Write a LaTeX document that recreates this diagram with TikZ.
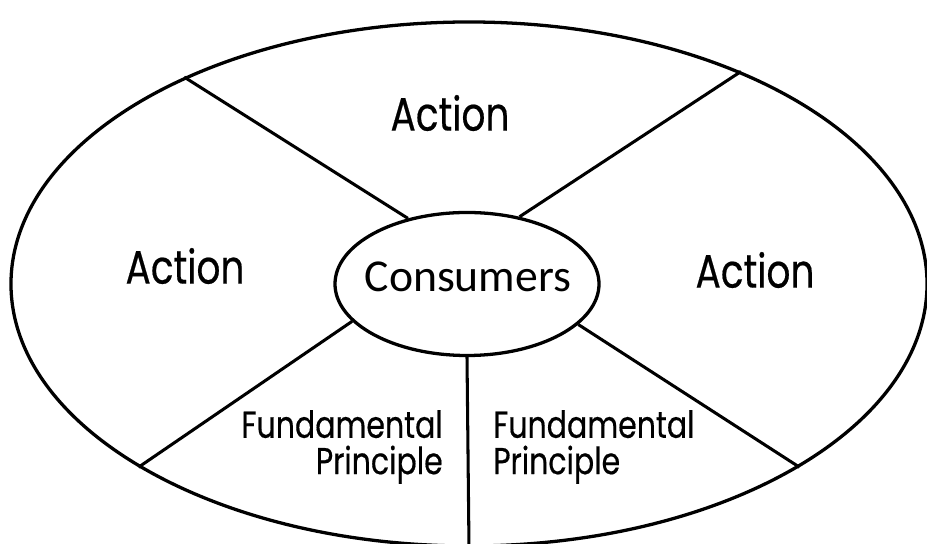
\documentclass[tikz,border=0pt]{standalone}
\usepackage{fontspec}
\usepackage{tikz}
\usetikzlibrary{shapes.geometric}

\newfontfamily\wheelfont[FakeStretch=0.8,FakeBold=0.4]{Poppins}
\newfontfamily\hubfont{Carlito}

\begin{document}
\begin{tikzpicture}[x=0.03cm,y=0.03cm,
    rim/.style={draw,ellipse,inner sep=0pt,line width=2.8pt},
    spoke/.style={line width=2.6pt},
    action/.style={font=\wheelfont\fontsize{40}{44}\selectfont},
    principle/.style={font=\wheelfont\fontsize{32}{31}\selectfont,inner sep=0pt}]
    \useasboundingbox (0,0) rectangle (927,544);
    % wheel and hub
    \node[rim,minimum width=27.48cm,minimum height=15.72cm] (wheel) at (469,260) {};
    \node[rim,minimum width=7.92cm,minimum height=4.29cm] (hub) at (467,260) {};
    \node[font=\hubfont\fontsize{39}{40}\selectfont] (consumers) at (468,267) {Consumers};
    % spokes
        \draw[spoke] (hub.132.7) -- (wheel.144.4);
        \draw[spoke] (hub.52.9) -- (wheel.38.9);
        \draw[spoke] (hub.198.3) -- (wheel.209.1);
        \draw[spoke] (hub.340.8) -- (wheel.331.6);
        \draw[spoke] (hub.south) -- (wheel.south);
    % sections
    \node[action] (top) at (450,431) {Action};
    \node[action] (left) at (185,278) {Action};
    \node[action] (right) at (755,274) {Action};
    \node[principle,align=right,anchor=east] (fpleft) at (443,97) {Fundamental\\Principle};
    \node[principle,align=left,anchor=west] (fpright) at (493,97) {Fundamental\\Principle};
\end{tikzpicture}
\end{document}
